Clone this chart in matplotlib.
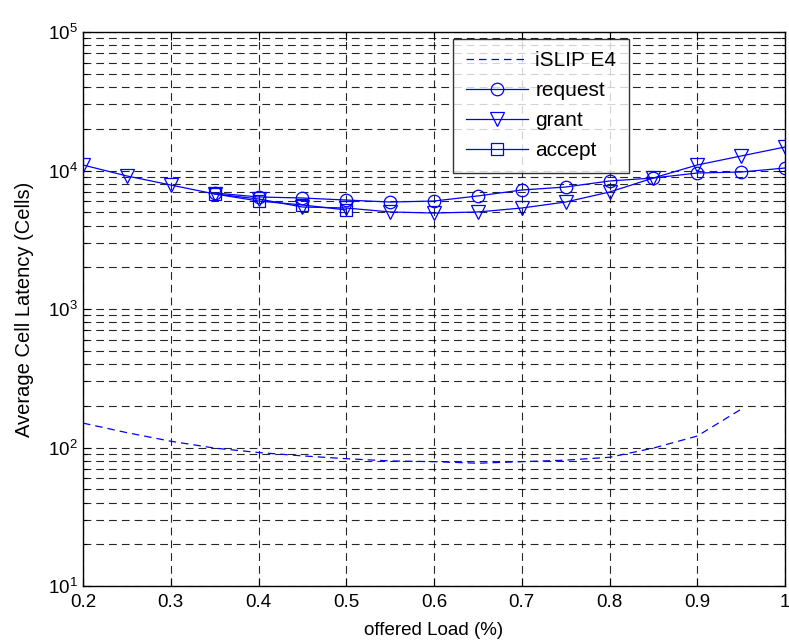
import matplotlib
matplotlib.use("Agg")
import matplotlib.pyplot as plt
from matplotlib.ticker import LogLocator, FixedLocator, NullFormatter, LogFormatterSciNotation

plt.rcParams['font.family'] = ['Liberation Sans', 'DejaVu Sans']
plt.rcParams['mathtext.fontset'] = 'custom'
plt.rcParams['mathtext.rm'] = 'Liberation Sans'
plt.rcParams['mathtext.it'] = 'Liberation Sans'

# offered load values
load_islip = [0.2, 0.25, 0.3, 0.35, 0.4, 0.45, 0.5, 0.55, 0.6, 0.65, 0.7, 0.75, 0.8, 0.85, 0.9, 0.95]
islip_e4 = [150, 128, 111, 99, 92, 87, 83, 80, 79, 77, 79, 81, 85, 99, 121, 189]

load_request = [0.35, 0.4, 0.45, 0.5, 0.55, 0.6, 0.65, 0.7, 0.75, 0.8, 0.85, 0.9, 0.95, 1.0]
request = [6880, 6440, 6330, 6120, 5920, 6020, 6550, 7230, 7600, 8400, 8830, 9590, 9750, 10420]

load_grant = [0.2, 0.25, 0.3, 0.35, 0.4, 0.45, 0.5, 0.55, 0.6, 0.65, 0.7, 0.75, 0.8, 0.85, 0.9, 0.95, 1.0]
grant = [10960, 9130, 7860, 6770, 6230, 5450, 5360, 5020, 4930, 5020, 5360, 5920, 6990, 8830, 10960, 12730, 14780]

load_accept = [0.35, 0.4, 0.45, 0.5]
accept = [6770, 6020, 5640, 5190]

x_ticks = [0.2, 0.3, 0.4, 0.5, 0.6, 0.7, 0.8, 0.9, 1.0]
x_tick_labels = ["0.2", "0.3", "0.4", "0.5", "0.6", "0.7", "0.8", "0.9", "1"]

blue = '#0000ff'

fig = plt.figure(figsize=(7.89, 6.41), dpi=100)
ax = fig.add_axes([83 / 789, 55 / 641, 702 / 789, 554 / 641])

ax.plot(load_islip, islip_e4, color=blue, lw=0.9, linestyle=(0, (6, 4)), label='iSLIP E4')
ax.plot(load_request, request, color=blue, lw=0.9, marker='o', markersize=9,
        markerfacecolor='none', markeredgewidth=0.9, label='request')
ax.plot(load_grant, grant, color=blue, lw=0.9, marker='v', markersize=10,
        markerfacecolor='none', markeredgewidth=0.9, label='grant')
ax.plot(load_accept, accept, color=blue, lw=0.9, marker='s', markersize=9,
        markerfacecolor='none', markeredgewidth=0.9, label='accept')

ax.set_yscale('log')
ax.set_ylim(10, 1e5)
ax.set_xlim(0.2, 1.0)
ax.xaxis.set_major_locator(FixedLocator(x_ticks))
ax.set_xticklabels(x_tick_labels)
ax.yaxis.set_major_locator(LogLocator(base=10, numticks=10))
ax.yaxis.set_minor_locator(LogLocator(base=10, subs=range(2, 10), numticks=20))
ax.yaxis.set_major_formatter(LogFormatterSciNotation())
ax.yaxis.set_minor_formatter(NullFormatter())

grid_style = dict(color='black', linestyle=(0, (7, 4.5)), linewidth=0.8, alpha=0.85)
ax.grid(True, which='major', axis='both', **grid_style)
ax.grid(True, which='minor', axis='y', **grid_style)

ax.tick_params(which='both', direction='in', top=True, right=True, labelsize=13.5,
               color='black', width=0.8)
ax.tick_params(which='major', length=6)
ax.tick_params(which='minor', length=3)
ax.tick_params(axis='x', pad=6)
for s in ax.spines.values():
    s.set_linewidth(1.0)

ax.set_xlabel('offered Load (%)', fontsize=13.5, labelpad=8)
ax.set_ylabel('Average Cell Latency (Cells)', fontsize=14.5, labelpad=10)

leg = ax.legend(loc='upper left', bbox_to_anchor=((453 - 83) / 702, 1 - (39 - 32) / 554),
                fontsize=15, frameon=True, fancybox=False, edgecolor='black',
                handlelength=3.0, handletextpad=0.35, borderpad=0.6, labelspacing=0.52,
                borderaxespad=0.0)
leg.get_frame().set_linewidth(1.0)

fig.savefig('out.png', dpi=100, facecolor='white')
